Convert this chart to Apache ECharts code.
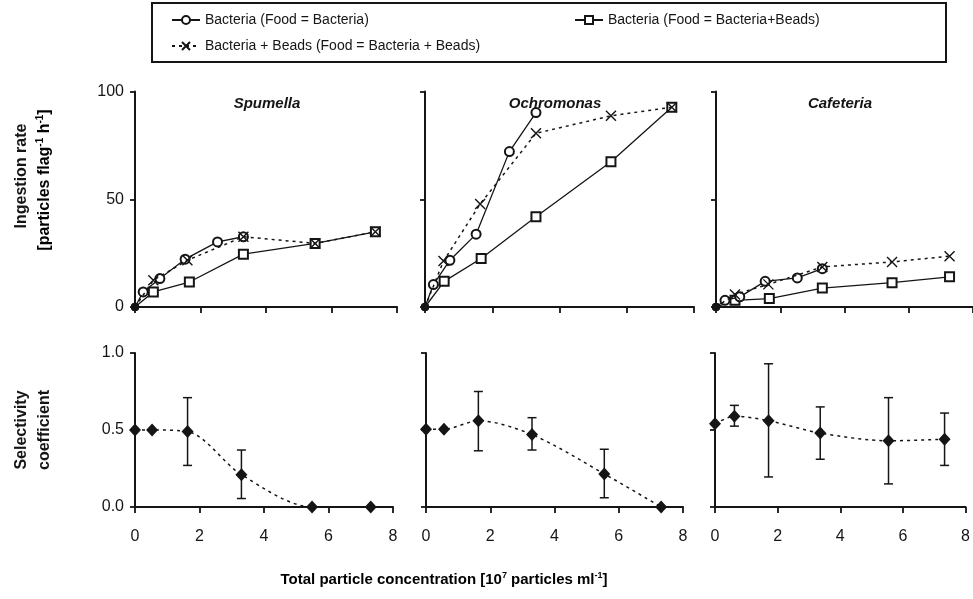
<!DOCTYPE html>
<html><head><meta charset="utf-8">
<script src="https://cdn.jsdelivr.net/npm/echarts@6/dist/echarts.min.js"></script>
<style>html,body{margin:0;padding:0;background:#fff}#c{width:973px;height:599px}</style>
</head><body><div id="c"></div>
<script>
// ---------- data ----------
const panels = ['Spumella', 'Ochromonas', 'Cafeteria'];
const seriesNames = ['Bacteria (Food = Bacteria)', 'Bacteria (Food = Bacteria+Beads)', 'Bacteria + Beads (Food = Bacteria + Beads)'];
const xTickInterval = 2;
const ingestionMax = 100, ingestionInterval = 50;
const selectivityMax = 1, selectivityInterval = 0.5;

// Bacteria (Food = Bacteria)
const bactX = [[0, 0.25, 0.76, 1.53, 2.52, 3.31], [0, 0.25, 0.74, 1.52, 2.51, 3.30], [0, 0.28, 0.74, 1.53, 2.53, 3.31]];
const bactY = [[0, 7.0, 13.2, 22.2, 30.2, 32.6], [0, 10.4, 21.7, 33.8, 72.1, 90.2], [0, 3.1, 4.7, 11.9, 13.5, 17.8]];
// Bacteria (Food = Bacteria+Beads)
const mixBactX = [[0, 0.56, 1.66, 3.31, 5.5, 7.34], [0, 0.57, 1.67, 3.3, 5.53, 7.34], [0, 0.59, 1.66, 3.31, 5.48, 7.27]];
const mixBactY = [[0, 7.0, 11.6, 24.5, 29.5, 34.9], [0, 11.9, 22.5, 41.9, 67.4, 92.7], [0, 3.1, 3.9, 8.8, 11.3, 14.0]];
// Bacteria + Beads (Food = Bacteria + Beads)
const mixAllX = [[0, 0.56, 1.6, 3.31, 5.5, 7.34], [0, 0.55, 1.64, 3.3, 5.53, 7.34], [0, 0.59, 1.63, 3.31, 5.48, 7.27]];
const mixAllY = [[0, 12.4, 21.7, 32.6, 29.5, 34.9], [0, 21.3, 47.8, 80.6, 88.7, 92.7], [0, 5.8, 10.5, 18.6, 20.9, 23.6]];

// Selectivity coefficient
const selX = [[0, 0.53, 1.63, 3.30, 5.49, 7.31], [0, 0.56, 1.63, 3.30, 5.55, 7.32], [0, 0.62, 1.71, 3.36, 5.54, 7.33]];
const selY = [[0.5, 0.5, 0.49, 0.21, 0, 0], [0.505, 0.505, 0.56, 0.47, 0.215, 0], [0.54, 0.59, 0.56, 0.48, 0.43, 0.44]];
const selLo = [[null, null, 0.27, 0.055, null, null], [null, null, 0.365, 0.37, 0.06, null], [null, 0.525, 0.195, 0.31, 0.15, 0.27]];
const selHi = [[null, null, 0.71, 0.37, null, null], [null, null, 0.75, 0.58, 0.375, null], [null, 0.66, 0.93, 0.65, 0.71, 0.61]];

// ---------- layout ----------
const FONT = '"Liberation Sans", Arial, sans-serif';
const INK = '#151515';
const topGrids = [{left: 135, width: 262}, {left: 425, width: 269}, {left: 716, width: 261}];
const botGrids = [{left: 135, width: 258}, {left: 426, width: 257}, {left: 715, width: 251}];

const grid = [], xAxis = [], yAxis = [], series = [];
const crossPath = 'path://M0,0L10,10M10,0L0,10';

function pts(xs, ys) {
  return xs.map((x, k) => k === 0 && ys[k] === 0
    ? {value: [x, ys[k]], symbol: 'circle', symbolSize: 7, itemStyle: {color: INK, borderColor: INK}}
    : [x, ys[k]]);
}

function axisCommon(showLabel) {
  return {
    axisLine: {show: true, onZero: false, lineStyle: {color: INK, width: 2}},
    axisTick: {show: true, length: 5, lineStyle: {color: INK, width: 1.8}},
    splitLine: {show: false},
    axisLabel: {show: showLabel, color: INK, fontSize: 16, fontFamily: FONT}
  };
}

for (let i = 0; i < 3; i++) {
  grid.push({left: topGrids[i].left, width: topGrids[i].width, top: 91.5, height: 215.5});
}
for (let i = 0; i < 3; i++) {
  grid.push({left: botGrids[i].left, width: botGrids[i].width, top: 353, height: 154});
}
for (let g = 0; g < 6; g++) {
  const isBottom = g >= 3;
  const xa = Object.assign({type: 'value', gridIndex: g, min: 0, max: 8, interval: xTickInterval}, axisCommon(isBottom));
  xa.axisTick.length = 6;
  xa.axisLabel.margin = 22;
  xAxis.push(xa);
  const ya = Object.assign({type: 'value', gridIndex: g, min: 0,
    max: isBottom ? selectivityMax : ingestionMax,
    interval: isBottom ? selectivityInterval : ingestionInterval}, axisCommon(g % 3 === 0));
  ya.axisLabel.margin = 11;
  if (isBottom) ya.axisLabel.formatter = v => v.toFixed(1);
  yAxis.push(ya);
}

for (let i = 0; i < 3; i++) {
  series.push({
    name: seriesNames[0], type: 'line', xAxisIndex: i, yAxisIndex: i,
    data: pts(bactX[i], bactY[i]), symbol: 'emptyCircle', symbolSize: 9,
    lineStyle: {color: INK, width: 1.3}, itemStyle: {color: INK, borderColor: INK, borderWidth: 1.2}, z: 3
  });
  series.push({
    name: seriesNames[1], type: 'line', xAxisIndex: i, yAxisIndex: i,
    data: pts(mixBactX[i], mixBactY[i]), symbol: 'emptyRect', symbolSize: 9,
    lineStyle: {color: INK, width: 1.3}, itemStyle: {color: INK, borderColor: INK, borderWidth: 1.2}, z: 2
  });
  series.push({
    name: seriesNames[2], type: 'line', xAxisIndex: i, yAxisIndex: i,
    data: pts(mixAllX[i], mixAllY[i]), symbol: crossPath, symbolSize: 10,
    lineStyle: {color: INK, width: 1.5, type: [3, 4]}, itemStyle: {color: INK, borderColor: INK, borderWidth: 1.4}, z: 4
  });
  // error bars
  const bars = [];
  selX[i].forEach((x, k) => { if (selLo[i][k] != null) bars.push([x, selLo[i][k], selHi[i][k]]); });
  series.push({
    type: 'custom', xAxisIndex: 3 + i, yAxisIndex: 3 + i, data: bars, z: 2,
    renderItem: function (params, api) {
      const x = api.value(0), lo = api.value(1), hi = api.value(2);
      const a = api.coord([x, lo]), b = api.coord([x, hi]);
      const w = 4.5, st = {stroke: INK, lineWidth: 1.5};
      return {type: 'group', children: [
        {type: 'line', shape: {x1: a[0], y1: a[1], x2: b[0], y2: b[1]}, style: st},
        {type: 'line', shape: {x1: a[0] - w, y1: a[1], x2: a[0] + w, y2: a[1]}, style: st},
        {type: 'line', shape: {x1: b[0] - w, y1: b[1], x2: b[0] + w, y2: b[1]}, style: st}
      ]};
    }
  });
  series.push({
    type: 'line', xAxisIndex: 3 + i, yAxisIndex: 3 + i,
    data: selX[i].map((x, k) => [x, selY[i][k]]), smooth: 0.3,
    symbol: 'diamond', symbolSize: [12, 13],
    lineStyle: {color: INK, width: 1.5, type: [3, 4]}, itemStyle: {color: INK}, z: 4
  });
}

const supRich = {
  a: {fontSize: 16, fontWeight: 'bold', fontFamily: FONT, color: INK, lineHeight: 19},
  s: {fontSize: 10, fontWeight: 'bold', fontFamily: FONT, color: INK, lineHeight: 19, verticalAlign: 'top'}
};
const xRich = {
  a: {fontSize: 15, fontWeight: 'bold', fontFamily: FONT, color: INK, lineHeight: 18},
  s: {fontSize: 9, fontWeight: 'bold', fontFamily: FONT, color: INK, lineHeight: 18, verticalAlign: 'top'}
};
const titleFont = 'bold 16px ' + FONT;
const graphic = [
  {type: 'rect', shape: {x: 152, y: 3, width: 794, height: 59}, style: {fill: 'none', stroke: INK, lineWidth: 2}},
  {type: 'text', x: 22, y: 176, rotation: Math.PI / 2, style: {text: 'Ingestion rate', font: titleFont, fill: INK, align: 'center', verticalAlign: 'middle'}},
  {type: 'text', x: 45, y: 180, rotation: Math.PI / 2, style: {text: '{a|[particles flag}{s|-1}{a| h}{s|-1}{a|]}', rich: supRich, align: 'center', verticalAlign: 'middle'}},
  {type: 'text', x: 22, y: 430, rotation: Math.PI / 2, style: {text: 'Selectivity', font: titleFont, fill: INK, align: 'center', verticalAlign: 'middle'}},
  {type: 'text', x: 45, y: 430, rotation: Math.PI / 2, style: {text: 'coefficient', font: titleFont, fill: INK, align: 'center', verticalAlign: 'middle'}},
  {type: 'text', x: 444, y: 580, style: {text: '{a|Total particle concentration [10}{s|7}{a| particles ml}{s|-1}{a|]}', rich: xRich, align: 'center', verticalAlign: 'middle'}}
];
const titleX = [267, 555, 840];
panels.forEach((p, i) => graphic.push({type: 'text', x: titleX[i], y: 104,
  style: {text: p, font: 'italic bold 15px ' + FONT, fill: INK, align: 'center', verticalAlign: 'middle'}}));

const legendBase = {selectedMode: false, itemWidth: 28, itemHeight: 10, itemGap: 4, padding: 0,
  textStyle: {fontSize: 14, color: INK, fontFamily: FONT}};
const legend = [
  Object.assign({data: [seriesNames[0]], left: 171, top: 13}, legendBase),
  Object.assign({data: [seriesNames[1]], left: 574, top: 13}, legendBase),
  Object.assign({data: [seriesNames[2]], left: 171, top: 39}, legendBase)
];

const chart = echarts.init(document.getElementById('c'), null, {renderer: 'canvas'});
chart.setOption({animation: false, backgroundColor: '#fff', grid, xAxis, yAxis, series, legend, graphic});
</script></body></html>
